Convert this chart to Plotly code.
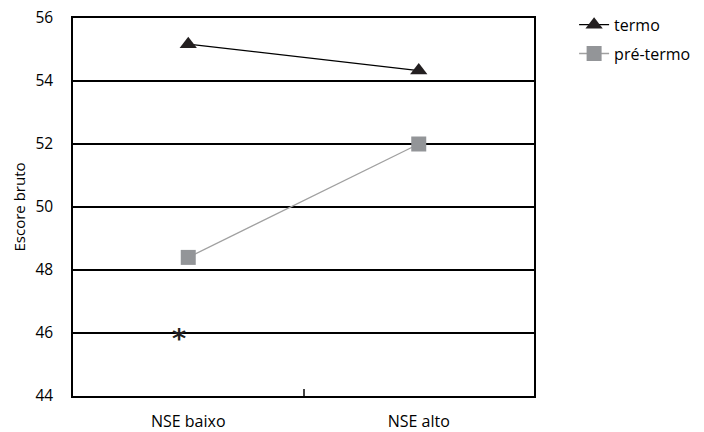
import plotly.graph_objects as go

categories = ["NSE baixo", "NSE alto"]
termo = [55.17, 54.33]
pre_termo = [48.4, 52.0]
y_ticks = [44, 46, 48, 50, 52, 54, 56]
star_category = "NSE baixo"
star_value = 46.0

font = "Open Sans, Liberation Sans, sans-serif"

fig = go.Figure()
fig.add_trace(go.Scatter(
    x=categories, y=termo, name="termo", mode="lines+markers", legendgroup="a",
    line=dict(color="#000000", width=1.3),
    marker=dict(symbol="triangle-up", size=15, color="#231f20"),
))
fig.add_trace(go.Scatter(
    x=categories, y=pre_termo, name="pré-termo", mode="lines+markers", legendgroup="b",
    line=dict(color="#a0a0a0", width=1.3),
    marker=dict(symbol="square", size=15, color="#939598"),
))

fig.add_annotation(x=star_category, y=star_value, text="<b>*</b>", showarrow=False,
                   xshift=-9, yshift=-5, font=dict(family="DejaVu Sans", size=27, color="#231f20"))

fig.update_layout(
    width=704, height=432,
    margin=dict(l=73, r=170, t=18, b=36, autoexpand=False),
    paper_bgcolor="white", plot_bgcolor="white",
    font=dict(family=font, size=15, color="#000000"),
    showlegend=True,
    legend=dict(x=1.087, y=1.027, xanchor="left", yanchor="top",
                font=dict(family=font, size=16), tracegroupgap=5),
)
fig.update_xaxes(
    type="category", range=[-0.5, 1.5], automargin=False,
    showgrid=False, showline=True, linecolor="#000000", linewidth=1.5, mirror=True,
    ticks="inside", tickson="boundaries", ticklen=7, tickcolor="#444444", tickwidth=1.5,
    ticklabelstandoff=10, zeroline=False, tickfont=dict(family=font, size=16),
)
fig.update_yaxes(
    range=[44, 56], tickvals=y_ticks, showgrid=True, gridcolor="#000000", gridwidth=1.5,
    showline=True, linecolor="#000000", linewidth=1.5, mirror=True, zeroline=False,
    ticks="", ticklabelstandoff=15, automargin=False, tickfont=dict(family=font, size=15.5),
    title=dict(text="Escore bruto", font=dict(family=font, size=15), standoff=6),
)

fig.write_html("out.html", config={"displayModeBar": False},
               post_script="document.body.style.margin='0';")
